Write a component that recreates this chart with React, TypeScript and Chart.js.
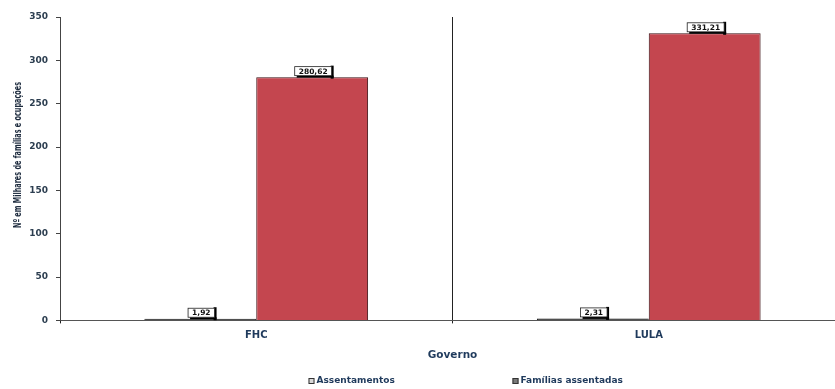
import { useEffect, useRef } from "react";
import { Chart, registerables } from "chart.js";

Chart.register(...registerables);

const categories = ["FHC", "LULA"];
const assentamentos = [1.92, 2.31];
const familiasAssentadas = [280.62, 331.21];
const seriesNames = ["Assentamentos", "Famílias assentadas"];
const yTicks = [0, 50, 100, 150, 200, 250, 300, 350];
const yTitle = "Nº em Milhares de famílias e ocupações";
const xTitle = "Governo";

const fmt = (v: number) => v.toFixed(2).replace(".", ",");

const labelPlugin = {
  id: "boxLabels",
  afterDatasetsDraw(chart: any) {
    const ctx = chart.ctx;
    ctx.save();
    chart.data.datasets.forEach((ds: any, di: number) => {
      const meta = chart.getDatasetMeta(di);
      meta.data.forEach((bar: any, i: number) => {
        const text = fmt(ds.data[i]);
        ctx.font = "bold 7.5px 'DejaVu Sans'";
        const tw = ctx.measureText(text).width;
        const w = tw + 8;
        const h = 9;
        const cx = bar.x + 1;
        const cy = bar.y - 6;
        ctx.fillStyle = "#000";
        ctx.fillRect(cx + w / 2 - 1, cy - h / 2 - 1, 3, h + 4);
        ctx.fillRect(cx - w / 2 + 2, cy + h / 2, w, 2);
        ctx.fillStyle = "#fff";
        ctx.fillRect(cx - w / 2, cy - h / 2, w, h);
        ctx.strokeStyle = "#222";
        ctx.lineWidth = 0.8;
        ctx.strokeRect(cx - w / 2, cy - h / 2, w, h);
        ctx.fillStyle = "#111";
        ctx.textAlign = "center";
        ctx.textBaseline = "middle";
        ctx.fillText(text, cx, cy + 0.5);
      });
    });
    ctx.restore();
  },
};

const yTitlePlugin = {
  id: "yTitle",
  afterDraw(chart: any) {
    const ctx = chart.ctx;
    ctx.save();
    ctx.font = "bold 11px 'DejaVu Sans Condensed', 'DejaVu Sans'";
    const tw = ctx.measureText(yTitle).width;
    const target = 146;
    ctx.translate(18, 155);
    ctx.rotate(-Math.PI / 2);
    ctx.scale(target / tw, 1);
    ctx.fillStyle = "#1c2a3d";
    ctx.textAlign = "center";
    ctx.textBaseline = "middle";
    ctx.fillText(yTitle, 0, 0);
    ctx.restore();
  },
};

const legendPlugin = {
  id: "customLegend",
  afterDraw(chart: any) {
    const ctx = chart.ctx;
    const { chartArea } = chart;
    const mid = (chartArea.left + chartArea.right) / 2;
    const y = chart.height - 8;
    const items = [
      { x: mid - 144, fill: "#d8d8d8", text: seriesNames[0] },
      { x: mid + 60, fill: "#7a7a7a", text: seriesNames[1] },
    ];
    ctx.save();
    ctx.font = "bold 9px 'DejaVu Sans'";
    ctx.textBaseline = "middle";
    ctx.textAlign = "left";
    items.forEach((it) => {
      ctx.fillStyle = it.fill;
      ctx.fillRect(it.x, y - 3, 6, 6);
      ctx.strokeStyle = "#333";
      ctx.lineWidth = 1;
      ctx.strokeRect(it.x + 0.5, y - 2.5, 5, 5);
      ctx.fillStyle = "#1f3a5c";
      ctx.fillText(it.text, it.x + 8, y);
    });
    ctx.restore();
  },
};

export default function App() {
  const ref = useRef<HTMLCanvasElement>(null);
  useEffect(() => {
    if (!ref.current) return;
    const chart = new Chart(ref.current, {
      type: "bar",
      data: {
        labels: categories,
        datasets: [
          {
            label: seriesNames[0],
            data: assentamentos,
            backgroundColor: "#2a2a2a",
            borderColor: "#111",
            borderWidth: 1,
            categoryPercentage: 0.57,
            barPercentage: 1,
          },
          {
            label: seriesNames[1],
            data: familiasAssentadas,
            backgroundColor: "#c4464f",
            borderColor: "#3a0f12",
            borderWidth: 1,
            categoryPercentage: 0.57,
            barPercentage: 1,
          },
        ],
      },
      options: {
        animation: false,
        responsive: true,
        maintainAspectRatio: false,
        layout: { padding: { left: 8, top: 17, right: 0, bottom: 25 } },
        plugins: {
          legend: { display: false },
          tooltip: { enabled: false },
        },
        scales: {
          x: {
            grid: {
              display: true,
              offset: true,
              color: "#222",
              lineWidth: 1,
              drawTicks: true,
              tickLength: 3,
            },
            border: { display: true, color: "#555" },
            ticks: {
              color: "#1f3a5c",
              font: { family: "'DejaVu Sans'", size: 10, weight: "bold" },
              padding: 6,
            },
            title: {
              display: true,
              text: xTitle,
              color: "#1f3a5c",
              font: { family: "'DejaVu Sans'", size: 10.5, weight: "bold" },
              padding: { top: 2, bottom: 2 },
            },
          },
          y: {
            min: 0,
            max: 350,
            afterBuildTicks: (axis: any) => {
              axis.ticks = yTicks.map((v) => ({ value: v }));
            },
            afterFit: (axis: any) => {
              axis.width = 52;
            },
            grid: {
              drawOnChartArea: false,
              drawTicks: true,
              tickLength: 4,
              color: "#444",
            },
            border: { display: true, color: "#444" },
            ticks: {
              color: "#2c3e50",
              font: { family: "'DejaVu Sans'", size: 9, weight: "bold" },
              padding: 8,
            },
            title: { display: false },
          },
        },
      },
      plugins: [labelPlugin, yTitlePlugin, legendPlugin],
    });
    return () => chart.destroy();
  }, []);
  return (
    <div style={{ position: "fixed", left: 0, top: 0, width: 845, height: 389, background: "#fff" }}>
      <canvas ref={ref} />
    </div>
  );
}
